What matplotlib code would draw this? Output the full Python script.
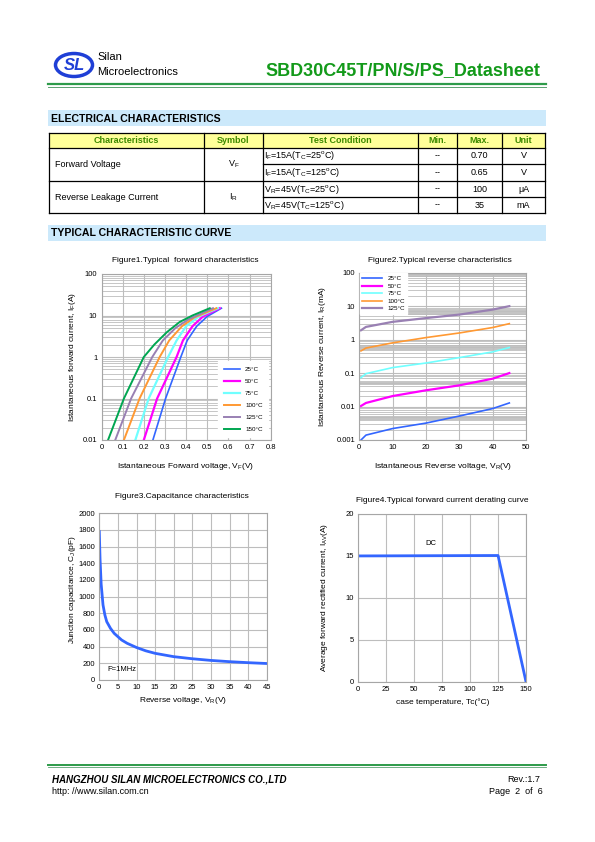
import numpy as np
import matplotlib
matplotlib.use("Agg")
import matplotlib.pyplot as plt
from matplotlib.patches import Rectangle, Ellipse
from matplotlib.ticker import FixedLocator, FuncFormatter, LogLocator, NullFormatter

plt.rcParams['font.family'] = ['Liberation Sans', 'DejaVu Sans']
plt.rcParams['mathtext.fontset'] = 'custom'
plt.rcParams['mathtext.rm'] = 'Liberation Sans'
plt.rcParams['mathtext.it'] = 'Liberation Sans:italic'

W, H = 595, 842

# ---- data ----
# table
tbl_header = ["Characteristics", "Symbol", "Test Condition", "Min.", "Max.", "Unit"]
tbl_params = ["Forward Voltage", "Reverse Leakage Current"]
tbl_symbols = ["V$_\\mathrm{F}$", "I$_\\mathrm{R}$"]
tbl_conditions = ["I$_\\mathrm{F}$=15A(T$_\\mathrm{C}$=25$^\\mathrm{o}$C)",
                  "I$_\\mathrm{F}$=15A(T$_\\mathrm{C}$=125$^\\mathrm{o}$C)",
                  "V$_\\mathrm{R}$=45V(T$_\\mathrm{C}$=25$^\\mathrm{o}$C)",
                  "V$_\\mathrm{R}$=45V(T$_\\mathrm{C}$=125$^\\mathrm{o}$C)"]
tbl_min = ["--", "--", "--", "--"]
tbl_max = ["0.70", "0.65", "100", "35"]
tbl_unit = ["V", "V", "\u03bcA", "mA"]

# figure 1: forward characteristics (V, A)
temps = ["25\u00b0C", "50\u00b0C", "75\u00b0C", "100\u00b0C", "125\u00b0C", "150\u00b0C"]
vf_25 = [0.243, 0.303, 0.375, 0.405, 0.45, 0.50, 0.567]
if_25 = [0.01, 0.1, 1, 2.5, 5.5, 9.5, 15]
vf_50 = [0.20, 0.263, 0.355, 0.385, 0.43, 0.48, 0.559]
if_50 = [0.01, 0.1, 1, 2.5, 5.5, 9.5, 15]
vf_75 = [0.16, 0.223, 0.315, 0.355, 0.40, 0.46, 0.551]
if_75 = [0.01, 0.1, 1, 2.5, 5.5, 9.5, 15]
vf_100 = [0.106, 0.18, 0.275, 0.32, 0.38, 0.44, 0.543]
if_100 = [0.01, 0.1, 1, 2.5, 5.5, 9, 15]
vf_125 = [0.065, 0.14, 0.24, 0.29, 0.35, 0.41, 0.527]
if_125 = [0.01, 0.1, 1, 2.5, 5, 8, 15]
vf_150 = [0.031, 0.106, 0.20, 0.25, 0.31, 0.37, 0.43, 0.512]
if_150 = [0.01, 0.1, 1, 2, 4, 7, 10, 15]

# figure 2: reverse characteristics (V, mA)
vr = [0.5, 2, 10, 20, 30, 40, 45]
ir_25 = [0.001, 0.0014, 0.0022, 0.0032, 0.0052, 0.0087, 0.0128]
ir_50 = [0.0104, 0.0128, 0.0206, 0.0306, 0.043, 0.068, 0.10]
ir_75 = [0.073, 0.096, 0.146, 0.20, 0.29, 0.43, 0.58]
ir_100 = [0.46, 0.56, 0.80, 1.15, 1.58, 2.3, 3.0]
ir_125 = [1.9, 2.4, 3.4, 4.4, 5.6, 7.9, 10.0]

# figure 3: capacitance (V, pF)
cap_v = [0, 0.2, 0.5, 1, 1.5, 2, 3, 4, 5, 6, 7.5, 10, 12.5, 15, 20, 25, 30, 35, 40, 45]
cap_c = [1780, 1450, 1150, 900, 780, 700, 620, 560, 520, 480, 440, 390, 350, 320,
         280, 255, 235, 220, 208, 198]

# figure 4: derating (degC, A)
der_t = [0, 125, 150]
der_i = [15, 15.05, 0]

col_fwd = ['#3366ff', '#ff00ff', '#70ffff', '#ff9933', '#9980b3', '#00a651']

fig = plt.figure(figsize=(W / 100, H / 100), dpi=100)

# page overlay in pixel coordinates
pg = fig.add_axes([0, 0, 1, 1])
pg.set_xlim(0, W)
pg.set_ylim(H, 0)
pg.axis('off')


def ax_px(x0, y0, x1, y1):
    return fig.add_axes([x0 / W, 1 - y1 / H, (x1 - x0) / W, (y1 - y0) / H])


# header
pg.add_patch(Ellipse((74, 65), 37, 23, fill=False, ec='#1f3fd6', lw=2.5))
pg.text(74, 65, "SL", color='#1f3fd6', fontsize=12, fontweight='bold', style='italic',
        ha='center', va='center')
pg.text(97, 57, "Silan", fontsize=8, va='center')
pg.text(97, 72, "Microelectronics", fontsize=8, va='center')
pg.text(540, 71, "SBD30C45T/PN/S/PS_Datasheet", fontsize=13, fontweight='bold',
        color='#139a1a', ha='right', va='center')
pg.plot([48, 546], [83.5, 83.5], color='#2e9b4a', lw=1.6)
pg.plot([48, 546], [86.5, 86.5], color='#5aa070', lw=0.7)

# section bars
for y0, title in [(110, "ELECTRICAL CHARACTERISTICS"), (225, "TYPICAL CHARACTERISTIC CURVE")]:
    pg.add_patch(Rectangle((48, y0), 498, 16, fc='#cce9fb', ec='none'))
    pg.text(51, y0 + 8.5, title, fontsize=7.6, fontweight='bold', va='center')

# table
cx = [49, 204, 263, 418, 457, 502, 545]
ry = [132.5, 148, 164, 181, 197, 213]
pg.add_patch(Rectangle((cx[0], ry[0]), cx[-1] - cx[0], ry[1] - ry[0], fc='#ffff99', ec='none'))
for i, h in enumerate(tbl_header):
    pg.text((cx[i] + cx[i + 1]) / 2, (ry[0] + ry[1]) / 2, h, fontsize=6.5, fontweight='bold',
            color='#3c8a00', ha='center', va='center')
for x in cx:
    pg.plot([x, x], [ry[0], ry[-1]], color='black', lw=0.9)
for y in [ry[0], ry[1], ry[3], ry[5]]:
    pg.plot([cx[0], cx[-1]], [y, y], color='black', lw=0.9)
for y in [ry[2], ry[4]]:
    pg.plot([cx[2], cx[-1]], [y, y], color='black', lw=0.9)
for k in range(2):
    yc = (ry[1 + 2 * k] + ry[3 + 2 * k]) / 2
    pg.text(55, yc, tbl_params[k], fontsize=6.5, va='center')
    pg.text((cx[1] + cx[2]) / 2, yc, tbl_symbols[k], fontsize=6.5, ha='center', va='center')
for r in range(4):
    yc = (ry[r + 1] + ry[r + 2]) / 2
    pg.text(cx[2] + 1, yc, tbl_conditions[r], fontsize=6.5, va='center')
    pg.text((cx[3] + cx[4]) / 2, yc, tbl_min[r], fontsize=6.5, ha='center', va='center')
    pg.text((cx[4] + cx[5]) / 2, yc, tbl_max[r], fontsize=6.5, ha='center', va='center')
    pg.text((cx[5] + cx[6]) / 2, yc, tbl_unit[r], fontsize=6.5, ha='center', va='center')

grid_c = '#bdbdbd'
fs_t = 5.5


def style(ax):
    for s in ax.spines.values():
        s.set_color('#a6a6a6')
        s.set_linewidth(0.8)
    ax.tick_params(length=0, labelsize=fs_t, pad=3)
    ax.set_axisbelow(True)


def logfmt(v, pos):
    return '%g' % v


# Figure 1
ax1 = ax_px(101.5, 274, 270.7, 440)
style(ax1)
ax1.set_yscale('log')
ax1.set_xlim(0, 0.8)
ax1.set_ylim(0.01, 100)
ax1.xaxis.set_major_locator(FixedLocator(np.arange(0, 0.81, 0.1)))
ax1.xaxis.set_major_formatter(FuncFormatter(lambda v, p: '%g' % round(v, 1)))
ax1.yaxis.set_major_locator(LogLocator(base=10, numticks=10))
ax1.yaxis.set_minor_locator(LogLocator(base=10, subs=np.arange(2, 10), numticks=20))
ax1.yaxis.set_major_formatter(FuncFormatter(logfmt))
ax1.yaxis.set_minor_formatter(NullFormatter())
ax1.grid(True, which='major', color=grid_c, lw=0.8)
ax1.grid(True, which='minor', axis='y', color=grid_c, lw=0.6)
ax1.tick_params(which='minor', length=0)
fwd = [(vf_25, if_25, 1.2), (vf_50, if_50, 1.6), (vf_75, if_75, 1.6),
       (vf_100, if_100, 1.4), (vf_125, if_125, 1.4), (vf_150, if_150, 1.4)]
for (v, i, lw), c, t in zip(fwd, col_fwd, temps):
    ax1.plot(v, i, color=c, lw=lw, label=t)
leg = ax1.legend(loc='lower right', fontsize=4.5, frameon=True, fancybox=False,
                 handlelength=2.6, labelspacing=1.05, borderpad=0.9, borderaxespad=0.4)
leg.get_frame().set_edgecolor('white')
leg.get_frame().set_alpha(1)
pg.text(185, 260, "Figure1.Typical  forward characteristics", fontsize=6, ha='center', va='center')
pg.text(186, 466, "Istantaneous Forward voltage, V$_\\mathrm{F}$(V)", fontsize=6, ha='center', va='center')
pg.text(73, 357, "Istantaneous forward current, I$_\\mathrm{F}$(A)", fontsize=6, ha='center',
        va='center', rotation=90)

# Figure 2
ax2 = ax_px(359.3, 272.7, 526, 440)
style(ax2)
ax2.set_yscale('log')
ax2.set_xlim(0, 50)
ax2.set_ylim(0.001, 100)
ax2.xaxis.set_major_locator(FixedLocator(np.arange(0, 51, 10)))
ax2.yaxis.set_major_locator(LogLocator(base=10, numticks=10))
ax2.yaxis.set_minor_locator(LogLocator(base=10, subs=np.arange(2, 10), numticks=20))
ax2.yaxis.set_major_formatter(FuncFormatter(logfmt))
ax2.yaxis.set_minor_formatter(NullFormatter())
ax2.grid(True, which='major', color=grid_c, lw=0.8)
ax2.grid(True, which='minor', axis='y', color=grid_c, lw=0.6)
ax2.tick_params(which='minor', length=0)
for lo, hi in [(72, 100), (5.3, 7.9), (0.5, 0.68), (0.043, 0.054), (0.0039, 0.0052)]:
    ax2.axhspan(lo, hi, color='#c4c4c4', lw=0, zorder=0.5)
rev = [(ir_25, 1.2), (ir_50, 1.6), (ir_75, 1.2), (ir_100, 1.2), (ir_125, 1.6)]
for (i, lw), c, t in zip(rev, col_fwd[:5], temps[:5]):
    ax2.plot(vr, i, color=c, lw=lw, label=t)
leg2 = ax2.legend(loc='upper left', fontsize=4.5, frameon=True, fancybox=False,
                  handlelength=3.2, labelspacing=0.35, borderpad=0.4, borderaxespad=0.1)
leg2.get_frame().set_edgecolor('white')
leg2.get_frame().set_alpha(1)
pg.text(440, 260, "Figure2.Typical reverse characteristics", fontsize=6, ha='center', va='center')
pg.text(443, 466, "Istantaneous Reverse voltage, V$_\\mathrm{R}$(V)", fontsize=6, ha='center', va='center')
pg.text(323, 357, "Istantaneous Reverse current, I$_\\mathrm{R}$(mA)", fontsize=6, ha='center',
        va='center', rotation=90)

# Figure 3
ax3 = ax_px(99.3, 513.3, 266.7, 680)
style(ax3)
ax3.set_xlim(0, 45)
ax3.set_ylim(0, 2000)
ax3.xaxis.set_major_locator(FixedLocator(np.arange(0, 46, 5)))
ax3.yaxis.set_major_locator(FixedLocator(np.arange(0, 2001, 200)))
ax3.grid(True, color=grid_c, lw=0.8)
ax3.plot(cap_v, cap_c, color='#3366ff', lw=2)
ax3.text(2.3, 130, "F=1MHz", fontsize=5.5, va='center')
pg.text(182, 496, "Figure3.Capacitance characteristics", fontsize=6, ha='center', va='center')
pg.text(183, 701, "Reverse voltage, V$_\\mathrm{R}$(V)", fontsize=6, ha='center', va='center')
pg.text(72, 590, "Junction capacitance, C$_\\mathrm{J}$(pF)", fontsize=6, ha='center',
        va='center', rotation=90)

# Figure 4
ax4 = ax_px(358.3, 514, 526, 681.7)
style(ax4)
ax4.set_xlim(0, 150)
ax4.set_ylim(0, 20)
ax4.xaxis.set_major_locator(FixedLocator(np.arange(0, 151, 25)))
ax4.yaxis.set_major_locator(FixedLocator(np.arange(0, 21, 5)))
ax4.grid(True, color=grid_c, lw=0.8)
ax4.plot(der_t, der_i, color='#3366ff', lw=2)
ax4.text(65, 16.5, "DC", fontsize=5.5, ha='center', va='center')
pg.text(442, 500, "Figure4.Typical forward current derating curve", fontsize=6, ha='center', va='center')
pg.text(443, 702, "case temperature, Tc(\u00b0C)", fontsize=6, ha='center', va='center')
pg.text(325, 597, "Average forward rectified current, I$_\\mathrm{AV}$(A)", fontsize=6, ha='center',
        va='center', rotation=90)

# footer
pg.plot([48, 546], [764.5, 764.5], color='#2e9b4a', lw=1.4)
pg.plot([48, 546], [767, 767], color='#5aa070', lw=0.6)
pg.text(52, 780, "HANGZHOU SILAN MICROELECTRONICS CO.,LTD", fontsize=7, fontweight='bold',
        style='italic', va='center')
pg.text(52, 792, "http: //www.silan.com.cn", fontsize=6.5, va='center')
pg.text(540, 780, "Rev.:1.7", fontsize=6.5, ha='right', va='center')
pg.text(543, 792, "Page  2  of  6", fontsize=6.5, ha='right', va='center')

fig.savefig("out.png", dpi=100)
